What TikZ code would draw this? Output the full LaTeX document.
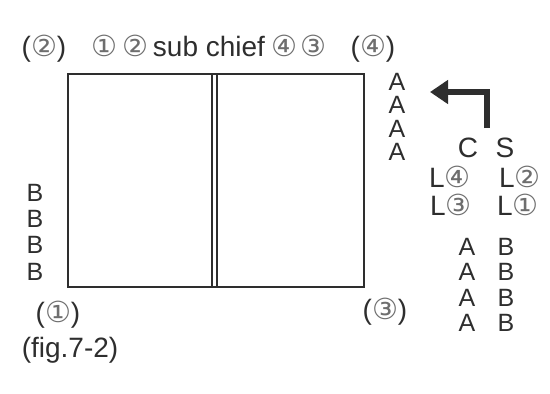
\documentclass[tikz,border=0pt]{standalone}
\usepackage{fontspec}
\setmainfont{Liberation Sans}
\newfontfamily\circfont{DejaVu Sans}
\usetikzlibrary{arrows.meta,positioning}
\definecolor{ink}{HTML}{2E2E2E}
\definecolor{circink}{HTML}{6E6E6E}
\newcommand{\cnum}[1]{{\circfont\fontsize{29}{29}\selectfont\color{circink}#1}}

\begin{document}
\begin{tikzpicture}[x=1pt,y=-1pt,
  every node/.style={inner sep=0pt,text=ink,font=\fontsize{28}{28}\selectfont},
  col/.style={align=center,font=\fontsize{25}{#1}\selectfont},
  turn/.style={draw=ink,line width=6pt,-{Triangle[length=18pt,width=23pt]}}]
\useasboundingbox[fill=white] (0,0) rectangle (550,394);

% board, split in two halves
\draw[ink,line width=1.4pt] (68,74) rectangle (364,287);
\draw[ink,line width=1.4pt] (212,74) -- (212,287) (217,74) -- (217,287);

% top row
\node (p2) at (44,49) {(\cnum{②})};
\node[anchor=base] (title) at (209,56) {\cnum{①}\hspace{5pt}\cnum{②}\hspace{4pt}sub chief\hspace{6pt}\cnum{④}\hspace{3pt}\cnum{③}};
\node (p4) at (373,49) {(\cnum{④})};

% side columns
\node[col=23.3] (acol) at (397,117) {A\\A\\A\\A};
\node[col=26.3] (bcol) at (35,232) {B\\B\\B\\B};

% corners below
\node (p1) at (58,315) {(\cnum{①})};
\node (p3) at (385,312) {(\cnum{③})};
\node (fig) at (70,350) {(fig.7-2)};

% right block
\node (c) at (468,148) {C};
\node[right=17pt of c] (s) {S};
\node[anchor=base] (l4) at (450,187) {L\cnum{④}};
\node[anchor=base] (l2) at (520,187) {L\cnum{②}};
\node[anchor=base] (l3) at (451,215) {L\cnum{③}};
\node[anchor=base] (l1) at (518,215) {L\cnum{①}};
\node[col=25.3] (aa) at (467,285) {A\\A\\A\\A};
\node[col=25.3] (bb) at (506,285) {B\\B\\B\\B};

% turn arrow
\coordinate (from) at (487,128);
\coordinate (tip) at (430,92);
\draw[turn] (from) |- (tip);
\end{tikzpicture}
\end{document}
